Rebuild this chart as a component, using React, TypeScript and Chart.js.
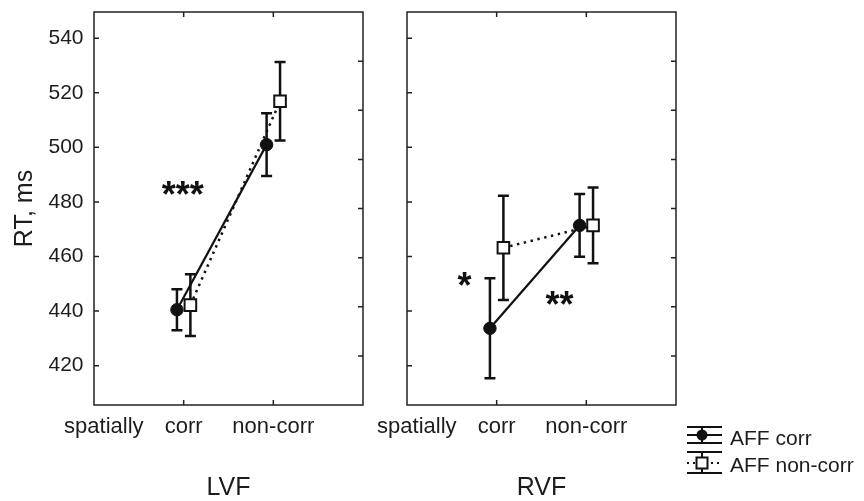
import React, { useEffect, useRef } from "react";
import { Chart, registerables } from "chart.js";

Chart.register(...registerables);

// ---------- data ----------
const SERIES = ["AFF corr", "AFF non-corr"];
const CAT_POS = [1, 2]; // corr, non-corr
const X_TICK_LABELS = ["spatially", "corr", "non-corr"];
const X_TICK_POS = [0.11, 1, 2];
const Y_TICKS = [420, 440, 460, 480, 500, 520, 540];

const LVF_CORR = [440.5, 501.0];
const LVF_CORR_ERR = [7.5, 11.5];
const LVF_NONCORR = [442.2, 516.9];
const LVF_NONCORR_ERR = [11.3, 14.4];

const RVF_CORR = [433.7, 471.4];
const RVF_CORR_ERR = [18.3, 11.5];
const RVF_NONCORR = [463.2, 471.4];
const RVF_NONCORR_ERR = [19.1, 13.9];

const LVF_STARS = [{ x: 0.99, y: 486.2, text: "***" }];
const RVF_STARS = [
  { x: 0.64, y: 452.9, text: "*" },
  { x: 1.7, y: 445.9, text: "**" },
];

const DODGE = 0.075;
const Y_MIN = 405.6;
const Y_MAX = 549.6;

const FONT = "'Liberation Sans', Arial, Helvetica, sans-serif";
const TEXT = "#1c1c1c";
const INK = "#111";

function pts(vals: number[], off: number) {
  return vals.map((v, i) => ({ x: CAT_POS[i] + off, y: v }));
}

const panelPlugin = {
  id: "panel",
  beforeDatasetsDraw(chart: any) {
    const { ctx, scales } = chart;
    const x = scales.x;
    const y = scales.y;
    ctx.save();
    ctx.strokeStyle = INK;
    ctx.lineWidth = 2.5;
    chart.data.datasets.forEach((ds: any) => {
      (ds.errors || []).forEach((e: number, i: number) => {
        const p = ds.data[i];
        const px = x.getPixelForValue(p.x);
        const y1 = y.getPixelForValue(p.y + e);
        const y2 = y.getPixelForValue(p.y - e);
        ctx.beginPath();
        ctx.moveTo(px, y1);
        ctx.lineTo(px, y2);
        ctx.moveTo(px - 5.5, y1);
        ctx.lineTo(px + 5.5, y1);
        ctx.moveTo(px - 5.5, y2);
        ctx.lineTo(px + 5.5, y2);
        ctx.stroke();
      });
    });
    ctx.restore();
  },
  afterDraw(chart: any, _args: any, opts: any) {
    const { ctx, chartArea, scales } = chart;
    const { left, right, top, bottom } = chartArea;
    const x = scales.x;
    const y = scales.y;
    const yR = scales.yR;
    ctx.save();
    // frame
    ctx.strokeStyle = "#222";
    ctx.lineWidth = 1.5;
    ctx.strokeRect(left, top, right - left, bottom - top);
    // inward ticks
    ctx.beginPath();
    Y_TICKS.forEach((v) => {
      const py = y.getPixelForValue(v);
      ctx.moveTo(left, py);
      ctx.lineTo(left + 5, py);
    });
    for (let k = 1; k < 8; k++) {
      const py = yR.getPixelForValue(k);
      ctx.moveTo(right, py);
      ctx.lineTo(right - 5, py);
    }
    CAT_POS.forEach((v) => {
      const px = x.getPixelForValue(v);
      ctx.moveTo(px, top);
      ctx.lineTo(px, top + 5);
      ctx.moveTo(px, bottom);
      ctx.lineTo(px, bottom - 5);
    });
    ctx.stroke();
    // significance stars
    const fs = 36;
    ctx.fillStyle = INK;
    ctx.font = `bold ${fs}px ${FONT}`;
    ctx.textAlign = "center";
    ctx.textBaseline = "alphabetic";
    (opts.stars || []).forEach((s: any) => {
      const px = x.getPixelForValue(s.x);
      const py = y.getPixelForValue(s.y);
      ctx.fillText(s.text, px, py + fs * 0.62);
    });
    // legend
    if (opts.legend) {
      const x0 = 687;
      const x1 = 722;
      const cx = 702;
      ctx.strokeStyle = INK;
      ctx.lineWidth = 2;
      // row 1
      ctx.beginPath();
      [427, 435, 443].forEach((ly) => {
        ctx.moveTo(x0, ly);
        ctx.lineTo(x1, ly);
      });
      ctx.moveTo(cx, 427);
      ctx.lineTo(cx, 443);
      ctx.stroke();
      ctx.beginPath();
      ctx.arc(cx, 435, 5.5, 0, Math.PI * 2);
      ctx.fill();
      // row 2
      ctx.beginPath();
      [452, 473].forEach((ly) => {
        ctx.moveTo(x0, ly);
        ctx.lineTo(x1, ly);
      });
      ctx.moveTo(cx, 452);
      ctx.lineTo(cx, 473);
      ctx.stroke();
      ctx.save();
      ctx.setLineDash([2, 4]);
      ctx.beginPath();
      ctx.moveTo(x0, 463);
      ctx.lineTo(x1, 463);
      ctx.stroke();
      ctx.restore();
      ctx.fillStyle = "#fff";
      ctx.fillRect(cx - 5.5, 457.5, 11, 11);
      ctx.strokeRect(cx - 5.5, 457.5, 11, 11);
      // text
      ctx.fillStyle = TEXT;
      ctx.font = `21px ${FONT}`;
      ctx.textAlign = "left";
      ctx.textBaseline = "alphabetic";
      ctx.fillText(SERIES[0], 730, 445);
      ctx.fillText(SERIES[1], 730, 471.5);
    }
    ctx.restore();
  },
};

function makeConfig(
  corr: number[],
  corrErr: number[],
  noncorr: number[],
  noncorrErr: number[],
  areaLeft: number,
  areaRight: number,
  title: string,
  showYLabels: boolean,
  stars: any[],
  legend: boolean
): any {
  return {
    type: "line",
    data: {
      datasets: [
        {
          label: SERIES[0],
          data: pts(corr, -DODGE),
          errors: corrErr,
          borderColor: INK,
          borderWidth: 2.2,
          pointStyle: "circle",
          pointRadius: 6.2,
          pointBackgroundColor: INK,
          pointBorderColor: INK,
          pointBorderWidth: 1,
          order: 1,
        },
        {
          label: SERIES[1],
          data: pts(noncorr, DODGE),
          errors: noncorrErr,
          borderColor: INK,
          borderWidth: 2.5,
          borderDash: [2.4, 4.6],
          pointStyle: "rect",
          pointRadius: 8.2,
          pointBackgroundColor: "#fff",
          pointBorderColor: INK,
          pointBorderWidth: 2,
          order: 0,
        },
      ],
    },
    options: {
      responsive: false,
      animation: false,
      events: [],
      layout: { padding: { left: 0, top: 12, right: 864 - areaRight, bottom: 0 } },
      plugins: {
        legend: { display: false },
        tooltip: { enabled: false },
        panel: { stars, legend },
      },
      scales: {
        x: {
          type: "linear",
          position: "bottom",
          min: 0,
          max: 3,
          afterFit: (s: any) => {
            s.height = 96;
            s.paddingLeft = 0;
            s.paddingRight = 0;
          },
          afterBuildTicks: (s: any) => {
            s.ticks = X_TICK_POS.map((v) => ({ value: v }));
          },
          grid: { display: false, drawTicks: false },
          border: { display: false },
          ticks: {
            autoSkip: false,
            maxRotation: 0,
            padding: 9,
            color: TEXT,
            font: { family: FONT, size: 22, lineHeight: 1.2 },
            callback: (_v: any, i: number) => X_TICK_LABELS[i],
          },
          title: {
            display: true,
            text: title,
            color: TEXT,
            font: { family: FONT, size: 25, lineHeight: 1 },
            padding: { top: 0, bottom: 0 },
          },
        },
        y: {
          type: "linear",
          position: "left",
          min: Y_MIN,
          max: Y_MAX,
          afterFit: (s: any) => {
            s.width = areaLeft;
            s.paddingTop = 0;
            s.paddingBottom = 0;
          },
          afterBuildTicks: (s: any) => {
            s.ticks = Y_TICKS.map((v) => ({ value: v }));
          },
          grid: { display: false, drawTicks: false },
          border: { display: false },
          ticks: {
            display: showYLabels,
            padding: 10.5,
            color: TEXT,
            font: { family: FONT, size: 21 },
          },
          title: {
            display: showYLabels,
            text: "RT, ms",
            color: TEXT,
            font: { family: FONT, size: 25, lineHeight: 1 },
            padding: { top: 13, bottom: 0 },
          },
        },
        yR: {
          type: "linear",
          position: "right",
          min: 0,
          max: 8,
          afterFit: (s: any) => {
            s.width = 0;
            s.paddingTop = 0;
            s.paddingBottom = 0;
          },
          grid: { display: false, drawTicks: false },
          border: { display: false },
          ticks: { display: false },
        },
      },
    },
    plugins: [panelPlugin],
  };
}

export default function App() {
  const leftRef = useRef<HTMLCanvasElement | null>(null);
  const rightRef = useRef<HTMLCanvasElement | null>(null);

  useEffect(() => {
    const c1 = new Chart(
      leftRef.current as HTMLCanvasElement,
      makeConfig(LVF_CORR, LVF_CORR_ERR, LVF_NONCORR, LVF_NONCORR_ERR, 94, 363, "LVF", true, LVF_STARS, false)
    );
    const c2 = new Chart(
      rightRef.current as HTMLCanvasElement,
      makeConfig(RVF_CORR, RVF_CORR_ERR, RVF_NONCORR, RVF_NONCORR_ERR, 407, 676, "RVF", false, RVF_STARS, true)
    );
    return () => {
      c1.destroy();
      c2.destroy();
    };
  }, []);

  const style: React.CSSProperties = {
    position: "absolute",
    left: 0,
    top: 0,
    width: 864,
    height: 501,
  };
  return (
    <div style={{ position: "absolute", left: 0, top: 0, width: 864, height: 501, background: "#fff" }}>
      <canvas ref={leftRef} width={864} height={501} style={style} />
      <canvas ref={rightRef} width={864} height={501} style={style} />
    </div>
  );
}
